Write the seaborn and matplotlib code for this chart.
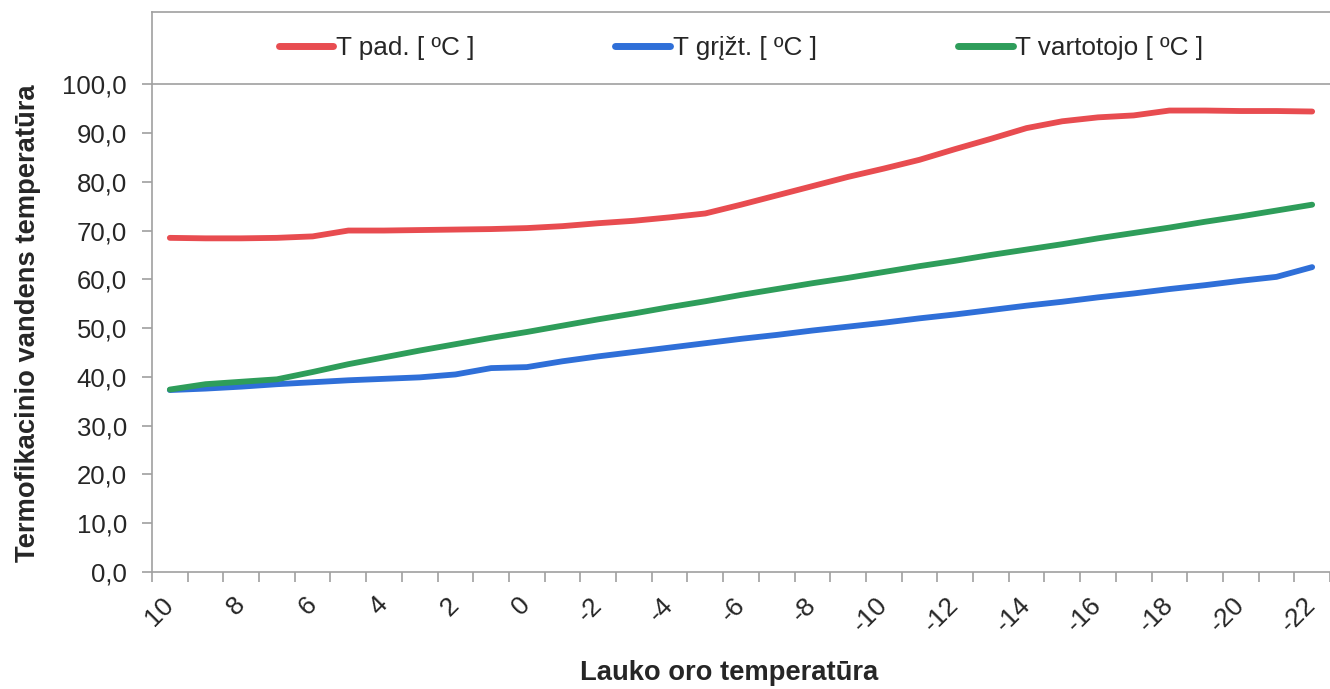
import numpy as np
import pandas as pd
import matplotlib.pyplot as plt
import seaborn as sns
from matplotlib.ticker import FixedLocator, FuncFormatter

sns.set_style('white')
plt.rcParams['font.family'] = ['Liberation Sans', 'DejaVu Sans']

# lauko oro temperatura (kategorijos)
lauko_t = list(range(10, -23, -1))

t_pad = [68.5, 68.4, 68.4, 68.5, 68.8, 70.0, 70.0, 70.1, 70.2, 70.3, 70.5,
         70.9, 71.5, 72.0, 72.7, 73.5, 75.3, 77.2, 79.1, 81.0, 82.7, 84.5,
         86.7, 88.8, 91.0, 92.4, 93.2, 93.6, 94.6, 94.6, 94.5, 94.5, 94.4]
t_grizt = [37.3, 37.6, 38.0, 38.5, 38.9, 39.3, 39.6, 39.9, 40.5, 41.8, 42.0,
           43.2, 44.2, 45.1, 46.0, 46.9, 47.8, 48.6, 49.5, 50.3, 51.1, 52.0,
           52.8, 53.7, 54.6, 55.4, 56.3, 57.1, 58.0, 58.8, 59.7, 60.5, 62.5]
t_vart = [37.4, 38.5, 39.0, 39.5, 41.0, 42.6, 44.0, 45.4, 46.7, 48.0, 49.2,
          50.5, 51.8, 53.0, 54.3, 55.5, 56.8, 58.0, 59.2, 60.3, 61.5, 62.7,
          63.8, 65.0, 66.1, 67.2, 68.4, 69.5, 70.6, 71.8, 72.9, 74.1, 75.3]

serijos = ['T pad. [ ºC ]', 'T grįžt. [ ºC ]', 'T vartotojo [ ºC ]']
spalvos = ['#e84c50', '#2f6fd8', '#2e9d5a']

n = len(lauko_t)
df = pd.DataFrame({
    'x': lauko_t * 3,
    'y': t_pad + t_grizt + t_vart,
    'serija': [serijos[0]] * n + [serijos[1]] * n + [serijos[2]] * n,
})

W, H = 1330, 689
fig = plt.figure(figsize=(W / 100, H / 100), dpi=100)
ax = fig.add_axes([152 / W, 1 - 572 / H, 1178 / W, 560 / H])

sns.lineplot(data=df, x='x', y='y', hue='serija', hue_order=serijos,
             palette=dict(zip(serijos, spalvos)), lw=4.2, sort=False,
             solid_capstyle='round', ax=ax)

ax.set_xlim(10.5, -22.5)
ax.set_ylim(0, 114.8)

grey = '#a0a0a0'
txt = '#262626'
for s in ['left', 'bottom', 'top']:
    ax.spines[s].set_visible(True)
    ax.spines[s].set_color(grey)
    ax.spines[s].set_linewidth(1.2)
ax.spines['right'].set_visible(False)
ax.axhline(100, color=grey, lw=1.2)

ax.yaxis.set_major_locator(FixedLocator(range(0, 101, 10)))
ax.yaxis.set_major_formatter(FuncFormatter(lambda v, p: f'{v:.1f}'.replace('.', ',')))
ax.tick_params(axis='y', which='major', direction='out', length=7, width=1.2,
               color=grey, pad=11, labelsize=18.5, labelcolor=txt, left=True)

ax.xaxis.set_major_locator(FixedLocator(range(10, -23, -2)))
ax.xaxis.set_minor_locator(FixedLocator(np.arange(10.5, -23, -1)))
ax.xaxis.set_major_formatter(FuncFormatter(lambda v, p: f'{int(round(v))}'))
ax.tick_params(axis='x', which='major', length=0, pad=21, labelsize=19,
               labelcolor=txt, bottom=True)
ax.tick_params(axis='x', which='minor', direction='out', length=7, width=1.2,
               color=grey, bottom=True)
for lab in ax.get_xticklabels():
    lab.set_rotation(45)
    lab.set_ha('right')
    lab.set_va('center')
    lab.set_rotation_mode('anchor')

ax.set_xlabel('Lauko oro temperatūra', fontsize=19.7, fontweight='bold', color=txt)
ax.xaxis.set_label_coords(0.49, -0.158)
ax.set_ylabel('Termofikacinio vandens temperatūra', fontsize=19.7,
              fontweight='bold', color=txt)
ax.yaxis.set_label_coords(-0.094, 0.445)

handles, labels = ax.get_legend_handles_labels()
for h in handles:
    h.set_linewidth(5)
ax.legend(handles, labels, loc='center', ncol=3, frameon=False,
          bbox_to_anchor=(0.5, (100 + 114.8) / 2 / 114.8),
          fontsize=18.8, handlelength=2.1, handletextpad=0.1,
          columnspacing=5.4, labelcolor=txt)

fig.savefig('out.png', dpi=100)
